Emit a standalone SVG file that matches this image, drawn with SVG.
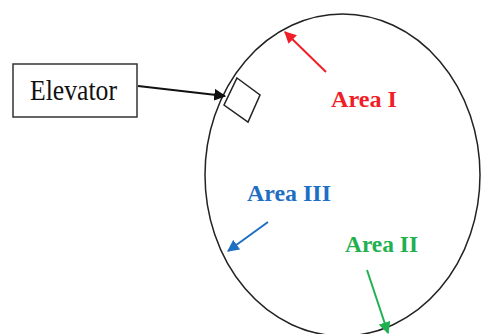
<svg xmlns="http://www.w3.org/2000/svg" width="481" height="334" viewBox="0 0 481 334">
<style>
.lbl{font-family:"Liberation Serif","Times New Roman",serif;font-weight:bold;font-size:24px}
.ln{fill:none;stroke-width:2}
</style>
<defs>
<marker id="ak" viewBox="0 0 10 10" refX="9" refY="5" markerWidth="6" markerHeight="6" orient="auto" markerUnits="strokeWidth"><path d="M0,0L10,5L0,10z" fill="#111"/></marker>
<marker id="ar" viewBox="0 0 10 10" refX="9" refY="5" markerWidth="6" markerHeight="6" orient="auto" markerUnits="strokeWidth"><path d="M0,0L10,5L0,10z" fill="#f01e28"/></marker>
<marker id="ab" viewBox="0 0 10 10" refX="9" refY="5" markerWidth="6" markerHeight="6" orient="auto" markerUnits="strokeWidth"><path d="M0,0L10,5L0,10z" fill="#1e6fc4"/></marker>
<marker id="ag" viewBox="0 0 10 10" refX="9" refY="5" markerWidth="6" markerHeight="6" orient="auto" markerUnits="strokeWidth"><path d="M0,0L10,5L0,10z" fill="#1fb050"/></marker>
</defs>
<rect width="481" height="334" fill="#fff"/>
<g id="area">
<ellipse cx="342.5" cy="175" rx="137.5" ry="161" fill="none" stroke="#222" stroke-width="1.5"/>
</g>
<g id="elevator-box">
<polygon points="237,78 260,95 248,122 224,105" fill="none" stroke="#222" stroke-width="1.5"/>
</g>
<g id="elevator">
<rect x="13" y="64" width="124" height="53" fill="#fff" stroke="#333" stroke-width="1.5"/>
<text x="30" y="100" font-family="'Liberation Serif','Times New Roman',serif" font-size="29" fill="#111" textLength="87" lengthAdjust="spacingAndGlyphs">Elevator</text>
</g>
<g id="area1"><text class="lbl" x="331" y="107" fill="#f01e28" textLength="66" lengthAdjust="spacingAndGlyphs">Area I</text></g>
<g id="area3"><text class="lbl" x="247" y="201" fill="#1e6fc4" textLength="84" lengthAdjust="spacingAndGlyphs">Area III</text></g>
<g id="area2"><text class="lbl" x="345" y="252" fill="#1fb050" textLength="73" lengthAdjust="spacingAndGlyphs">Area II</text></g>
<g id="connectors">
<line class="ln" x1="138" y1="86" x2="225" y2="96" stroke="#111" marker-end="url(#ak)"/>
<line class="ln" x1="326" y1="72" x2="285" y2="32" stroke="#f01e28" marker-end="url(#ar)"/>
<line class="ln" x1="268" y1="222" x2="228" y2="251" stroke="#1e6fc4" marker-end="url(#ab)"/>
<line class="ln" x1="367" y1="270" x2="388" y2="333" stroke="#1fb050" marker-end="url(#ag)"/>
</g>
</svg>
